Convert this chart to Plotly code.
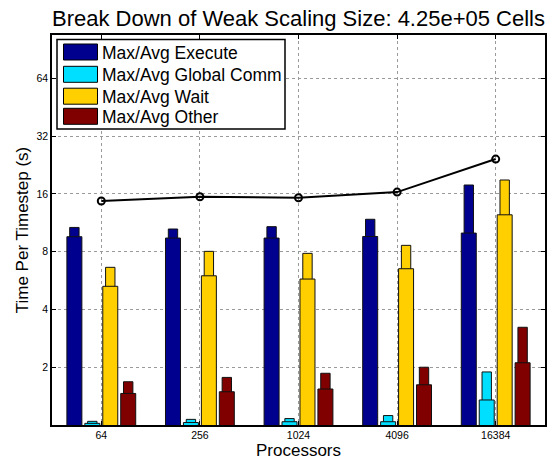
import plotly.graph_objects as go

# Processor counts (one bar group per count)
processors = ["64", "256", "1024", "4096", "16384"]

# Time per timestep (s): maximum and average over ranks for each phase
execute_max = [10.7, 10.5, 10.8, 11.8, 17.8]
execute_avg = [9.57, 9.42, 9.42, 9.6, 10.0]
comm_max = [1.045, 1.07, 1.08, 1.12, 1.89]
comm_avg = [1.02, 1.03, 1.04, 1.04, 1.35]
wait_max = [6.63, 8.03, 7.84, 8.63, 18.9]
wait_avg = [5.28, 5.99, 5.76, 6.52, 12.45]
other_max = [1.68, 1.77, 1.86, 2.0, 3.23]
other_avg = [1.46, 1.49, 1.54, 1.62, 2.11]

# Total time per timestep
total = [14.7, 15.45, 15.27, 16.35, 24.3]

legend_names = ["Max/Avg Execute", "Max/Avg Global Comm", "Max/Avg Wait", "Max/Avg Other"]
colors = ["#00008F", "#00DFFF", "#FFCF00", "#800000"]
series = [
    (execute_max, execute_avg),
    (comm_max, comm_avg),
    (wait_max, wait_avg),
    (other_max, other_avg),
]

FONT = "Liberation Sans, Arial, Helvetica, sans-serif"
W, H = 557, 460
ML, MR, MT, MB = 52, 12, 35, 35

xpos = list(range(1, len(processors) + 1))
centers = [-0.273, -0.091, 0.091, 0.273]
avg_w, max_w = 0.152, 0.095

fig = go.Figure()
for (mx, av), name, col, c in zip(series, legend_names, colors, centers):
    # narrow maximum bar sits behind the wider average bar
    fig.add_trace(go.Bar(
        x=xpos, y=mx, width=max_w, offset=c - max_w / 2,
        marker=dict(color=col, line=dict(color="#111111", width=1)),
        name=name + " (max)", showlegend=False,
    ))
    fig.add_trace(go.Bar(
        x=xpos, y=av, width=avg_w, offset=c - avg_w / 2,
        marker=dict(color=col, line=dict(color="#111111", width=1)),
        name=name, showlegend=False,
    ))

fig.add_trace(go.Scatter(
    x=xpos, y=total, mode="lines+markers",
    line=dict(color="black", width=2),
    marker=dict(symbol="circle-open", size=7, color="black", line=dict(width=2)),
    showlegend=False, name="Total",
))

# Boxed legend with wide colour swatches
pw, ph = W - ML - MR, H - MT - MB
def px(x):
    return (x - ML) / pw
def py(y):
    return (H - MB - y) / ph

shapes = [dict(type="rect", xref="paper", yref="paper",
               x0=px(57), x1=px(285), y0=py(129), y1=py(39.5),
               line=dict(color="black", width=1.5), fillcolor="white", layer="above")]
annotations = []
row_y = [52, 74.3, 96.2, 116.3]
for name, col, yc in zip(legend_names, colors, row_y):
    shapes.append(dict(type="rect", xref="paper", yref="paper",
                       x0=px(63.5), x1=px(97.5), y0=py(yc + 8), y1=py(yc - 8),
                       line=dict(color="black", width=1), fillcolor=col, layer="above"))
    annotations.append(dict(text=name, xref="paper", yref="paper",
                            x=px(100), y=py(yc + 1), xanchor="left", yanchor="middle",
                            showarrow=False, font=dict(family=FONT, size=17.5, color="black")))

axis_common = dict(
    showline=True, linecolor="black", linewidth=1.5, mirror="allticks",
    ticks="inside", ticklen=4, tickcolor="black", tickwidth=1,
    showgrid=True, gridcolor="#9a9a9a", gridwidth=1, griddash="dot",
    zeroline=False, automargin=False,
    tickfont=dict(family=FONT, size=10.5, color="black"),
)

fig.update_layout(
    width=W, height=H,
    margin=dict(l=ML, r=MR, t=MT, b=MB, autoexpand=False),
    paper_bgcolor="white", plot_bgcolor="white",
    barmode="overlay",
    title=dict(text="Break Down of Weak Scaling Size: 4.25e+05 Cells",
               x=0.5, xref="paper", y=1 - 18 / H, yref="container", yanchor="middle",
               font=dict(family=FONT, size=22, color="black")),
    xaxis=dict(axis_common, range=[0.5, 5.5], tickvals=xpos, ticktext=processors,
               title=dict(text="Processors", standoff=4,
                          font=dict(family=FONT, size=17, color="black"))),
    yaxis=dict(axis_common, type="log", range=[0, 6.75 * 0.30103],
               tickvals=[2, 4, 8, 16, 32, 64], ticktext=["2", "4", "8", "16", "32", "64"],
               title=dict(text="Time Per Timestep (s)", standoff=4,
                          font=dict(family=FONT, size=17, color="black"))),
    shapes=shapes,
    annotations=annotations,
)

fig.write_html("out.html")
